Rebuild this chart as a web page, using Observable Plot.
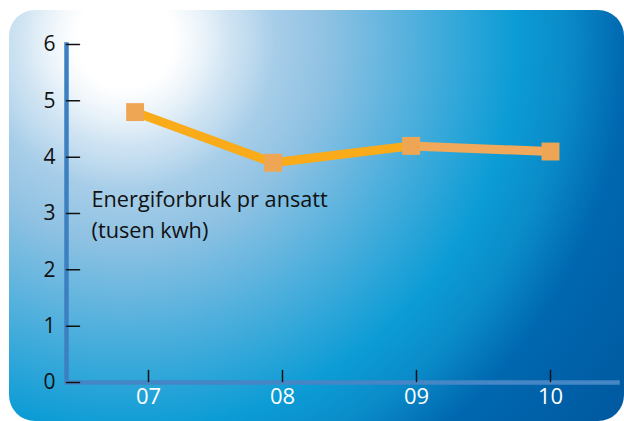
<!DOCTYPE html>
<html><head><meta charset="utf-8">
<script src="https://cdn.jsdelivr.net/npm/d3@7"></script>
<script src="https://cdn.jsdelivr.net/npm/@observablehq/plot@0.6"></script>
<style>
html,body{margin:0;padding:0;background:#fff;}
#wrap{position:relative;width:624px;height:421px;overflow:hidden;font-family:"Open Sans",sans-serif;}
#card{position:absolute;left:9px;top:10px;width:615px;height:411px;border-radius:26px;
background:
 radial-gradient(circle at 116px 30px, #fff 0px, #fff 48px, rgba(255,255,255,0.75) 70px, rgba(255,255,255,0.3) 105px, rgba(255,255,255,0) 150px),
 radial-gradient(circle at 116px 30px, #dcebf6 0px, #b9d7ed 110px, #90c2e3 200px, #4aaedc 300px, #0c9cd5 390px, #0a8cc9 440px, #0068b0 500px, #005ba2 600px);}
#chart{position:absolute;left:0;top:0;}
</style>
</head><body>
<div id="wrap"><div id="card"></div><div id="chart"></div></div>
<script>
// data
const years = ["07", "08", "09", "10"];
const yearTicks = [7, 8, 9, 10];
const pointPos = [6.9, 7.93, 8.96, 10];   // marker positions
const values = [4.8, 3.9, 4.2, 4.1];
const yTicks = [0, 1, 2, 3, 4, 5, 6];
const annotation = "Energiforbruk pr ansatt\n(tusen kwh)";

const points = values.map((v, i) => ({x: pointPos[i], y: v, label: years[i]}));
const segments = points.slice(1).map((p, i) => ({x1: points[i].x, y1: points[i].y, x2: p.x, y2: p.y, i}));
const segColor = ["#f9ab1a", "#f9ab1a", "#f0a85a"];

const tickShape = {draw(ctx, l) { ctx.moveTo(0, 0); ctx.lineTo(0, -l); }};

const chart = Plot.plot({
  width: 624,
  height: 421,
  marginLeft: 66,
  marginRight: 7,
  marginTop: 44,
  marginBottom: 39,
  style: {background: "transparent", fontFamily: "Open Sans, sans-serif", overflow: "visible"},
  x: {domain: [7, 10], range: [148, 550], axis: null},
  y: {domain: [0, 6], axis: null},
  marks: [
    Plot.frame({anchor: "left", stroke: "#3d80c2", strokeWidth: 4.5}),
    Plot.frame({anchor: "bottom", stroke: "#4586c6", strokeWidth: 4.5}),
    // y ticks (inward)
    Plot.vector(yTicks, {y: d => d, frameAnchor: "left", rotate: 90, length: 13, anchor: "start", shape: tickShape, stroke: "#111", strokeWidth: 1.5}),
    Plot.text(yTicks, {y: d => d, text: d => String(d), frameAnchor: "left", dx: -11, textAnchor: "end", fontSize: 21, fill: "#111"}),
    // x ticks (upward)
    Plot.vector(yearTicks, {x: d => d, frameAnchor: "bottom", length: 11, anchor: "start", shape: tickShape, stroke: "#111", strokeWidth: 1.5, dy: -1}),
    Plot.text(yearTicks, {x: d => d, text: (d, i) => years[i], frameAnchor: "bottom", dy: 21, fontSize: 22, fill: "#fff"}),
    // annotation
    Plot.text([annotation], {y: 3, frameAnchor: "left", dx: 25, dy: -1, text: d => d, textAnchor: "start", lineAnchor: "middle", lineHeight: 1.43, fontSize: 21.7, fill: "#111"}),
    // line
    Plot.link(segments, {x1: "x1", y1: "y1", x2: "x2", y2: "y2", stroke: d => segColor[d.i], strokeWidth: 9}),
    Plot.dot(points, {x: "x", y: "y", symbol: "square", r: 10.1, fill: "#efa654", stroke: null})
  ]
});
document.getElementById("chart").appendChild(chart);
</script>
</body></html>
